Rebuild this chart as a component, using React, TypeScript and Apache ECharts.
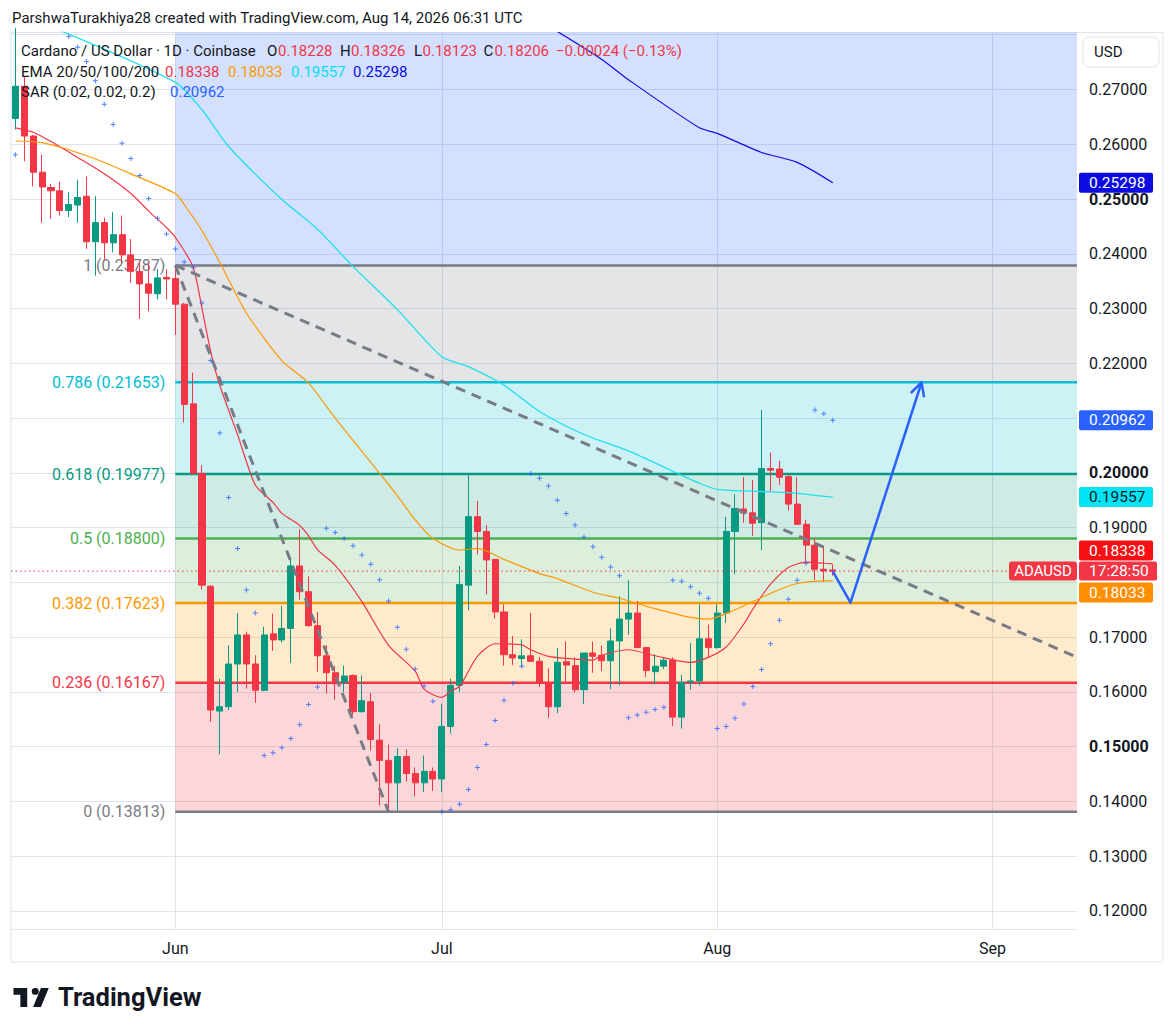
import React, { useEffect, useRef } from "react";
import * as echarts from "echarts";

const FONT = "Roboto, 'Noto Sans', Arial, sans-serif";
const INK = "#131722";
const UP = "#089981";
const DOWN = "#f23645";

const W = 1176;
const H = 1034;
const PLOT_LEFT = 11;
const PLOT_RIGHT = 1077;
const PLOT_TOP = 32.5;
const PLOT_BOTTOM = 929;
const Y_MIN = 0.11671;
const Y_MAX = 0.28041;

// categories: daily, 2026-05-14 .. 2026-09-10
const dates: string[] = Array.from({ length: 120 }, (_, i) =>
  new Date(Date.UTC(2026, 4, 14 + i)).toISOString().slice(0, 10)
);
const monthStarts = ["2026-06-01", "2026-07-01", "2026-08-01", "2026-09-01"];
const monthLabels = ["Jun", "Jul", "Aug", "Sep"];

// OHLC, 2026-05-14 .. 2026-08-14
const open = [
  0.2647, 0.2706, 0.2615, 0.2549, 0.2521, 0.2515, 0.2479, 0.2489, 0.2505, 0.2422, 0.2457, 0.2420, 0.2435, 0.2398, 0.2368, 0.2345, 0.2327, 0.2357,
  0.2355, 0.2308, 0.2126, 0.1999, 0.1793, 0.1565, 0.1573, 0.1651, 0.1704, 0.1651, 0.1603, 0.1706, 0.1695, 0.1716, 0.1830, 0.1783, 0.1721, 0.1666, 0.1635, 0.1617, 0.1630, 0.1564, 0.1582, 0.1512, 0.1475, 0.1434, 0.1482, 0.1451, 0.1434, 0.1455,
  0.1441, 0.1537, 0.1612, 0.1795, 0.1920, 0.1893, 0.1842, 0.1746, 0.1668, 0.1661, 0.1666, 0.1656, 0.1617, 0.1573, 0.1655, 0.1648, 0.1604, 0.1671, 0.1667, 0.1657, 0.1693, 0.1733, 0.1744, 0.1681, 0.1637, 0.1647, 0.1658, 0.1554, 0.1618, 0.1620, 0.1697,
  0.1681, 0.1744, 0.1893, 0.1934, 0.1927, 0.1909, 0.2008, 0.2007, 0.1993, 0.1943, 0.1906, 0.1868, 0.1824, 0.18228,
];
const high = [
  0.2812, 0.2724, 0.2617, 0.2581, 0.2528, 0.2532, 0.2512, 0.2535, 0.2541, 0.2505, 0.2466, 0.2476, 0.2470, 0.2427, 0.2384, 0.2384, 0.2372, 0.2372,
  0.23787, 0.2310, 0.2183, 0.2014, 0.1795, 0.1624, 0.1685, 0.1744, 0.1710, 0.1667, 0.1719, 0.1743, 0.1757, 0.1845, 0.1897, 0.1811, 0.1746, 0.1685, 0.1648, 0.1648, 0.1632, 0.1630, 0.1598, 0.1541, 0.1504, 0.1497, 0.1495, 0.1462, 0.1484, 0.1462,
  0.1579, 0.1624, 0.1830, 0.1999, 0.1949, 0.1905, 0.1843, 0.1760, 0.1702, 0.1696, 0.1744, 0.1664, 0.1643, 0.1680, 0.1692, 0.1663, 0.1671, 0.1692, 0.1685, 0.1716, 0.1775, 0.1804, 0.1766, 0.1682, 0.1669, 0.1664, 0.1663, 0.1631, 0.1689, 0.1760, 0.1723,
  0.1760, 0.1920, 0.1961, 0.1992, 0.1987, 0.2115, 0.2037, 0.2022, 0.1996, 0.1992, 0.1914, 0.1880, 0.1866, 0.18326,
];
const low = [
  0.2627, 0.2569, 0.2523, 0.2457, 0.2464, 0.2470, 0.2467, 0.2457, 0.2409, 0.2360, 0.2389, 0.2403, 0.2383, 0.2347, 0.2281, 0.2295, 0.2317, 0.2317,
  0.2252, 0.2092, 0.1997, 0.1787, 0.1545, 0.1486, 0.1567, 0.1600, 0.1606, 0.1580, 0.1601, 0.1675, 0.1690, 0.1653, 0.1768, 0.1719, 0.1637, 0.1597, 0.1586, 0.1600, 0.1558, 0.1562, 0.1493, 0.1393, 0.13813, 0.1383, 0.1436, 0.1409, 0.1417, 0.1419,
  0.1417, 0.1524, 0.1600, 0.1749, 0.1851, 0.1778, 0.1734, 0.1648, 0.1649, 0.1646, 0.1655, 0.1609, 0.1553, 0.1561, 0.1619, 0.1599, 0.1578, 0.1635, 0.1638, 0.1605, 0.1612, 0.1704, 0.1680, 0.1627, 0.1614, 0.1642, 0.1538, 0.1533, 0.1604, 0.1612, 0.1664,
  0.1679, 0.1726, 0.1815, 0.1909, 0.1885, 0.1859, 0.1966, 0.1978, 0.1931, 0.1905, 0.1835, 0.1804, 0.1801, 0.18123,
];
const close = [
  0.2706, 0.2615, 0.2549, 0.2522, 0.2515, 0.2479, 0.2490, 0.2503, 0.2422, 0.2457, 0.2420, 0.2435, 0.2398, 0.2368, 0.2345, 0.2328, 0.2356, 0.2354,
  0.2308, 0.2125, 0.1999, 0.1795, 0.1567, 0.1573, 0.1651, 0.1704, 0.1651, 0.1603, 0.1704, 0.1695, 0.1716, 0.1830, 0.1783, 0.1721, 0.1666, 0.1635, 0.1615, 0.1629, 0.1564, 0.1584, 0.1513, 0.1475, 0.1434, 0.1482, 0.1451, 0.1434, 0.1455, 0.1441,
  0.1537, 0.1612, 0.1796, 0.1920, 0.1893, 0.1841, 0.1746, 0.1668, 0.1662, 0.1666, 0.1656, 0.1617, 0.1573, 0.1654, 0.1649, 0.1604, 0.1671, 0.1665, 0.1657, 0.1693, 0.1733, 0.1744, 0.1681, 0.1639, 0.1647, 0.1658, 0.1554, 0.1617, 0.1620, 0.1697, 0.1681,
  0.1744, 0.1893, 0.1935, 0.1927, 0.1908, 0.2008, 0.2005, 0.1992, 0.1943, 0.1906, 0.1868, 0.1824, 0.1821, 0.18206,
];

// EMA readings [day index, value]
const ema20Points: [number, number][] = [
  [0, 0.2630], [2, 0.2622], [4, 0.2605], [7, 0.2576], [10, 0.2546], [13, 0.2510], [15, 0.2478], [17, 0.2448], [18, 0.2430],
  [20, 0.2376], [21, 0.2300], [22, 0.2220], [23, 0.2160], [25, 0.2070], [27, 0.1978], [29, 0.1946], [30, 0.1926], [32, 0.1904],
  [33, 0.1885], [34, 0.1860], [36, 0.1831], [39, 0.1765], [42, 0.1685], [45, 0.1638], [46, 0.1605], [48, 0.1590], [49, 0.1602],
  [50, 0.1610], [52, 0.1665], [54, 0.1688], [57, 0.1686], [58, 0.1677], [60, 0.1665], [63, 0.1660], [65, 0.1658], [66, 0.1667],
  [69, 0.1677], [72, 0.1666], [76, 0.1654], [78, 0.1663], [80, 0.1682], [82, 0.1724], [83, 0.1751], [84, 0.1775], [85, 0.1797],
  [87, 0.1827], [89, 0.1837], [91, 0.1835], [92, 0.18338],
];
const ema50Points: [number, number][] = [
  [0, 0.2606], [3, 0.2603], [6, 0.2590], [9, 0.2573], [13, 0.2546], [18, 0.2510], [19, 0.2490], [21, 0.2442], [23, 0.2384],
  [26, 0.2292], [30, 0.2205], [33, 0.2164], [36, 0.2100], [41, 0.1999], [43, 0.1958], [45, 0.1914], [47, 0.1880], [50, 0.1859],
  [52, 0.1862], [55, 0.1842], [59, 0.1816], [61, 0.1807], [65, 0.1782], [68, 0.1771], [72, 0.1752], [76, 0.1736], [78, 0.1733],
  [81, 0.1750], [83, 0.1765], [86, 0.1787], [88, 0.1798], [90, 0.1802], [92, 0.18033],
];
const ema100Points: [number, number][] = [
  [5, 0.2808], [18, 0.2713], [21, 0.2663], [24, 0.2596], [30, 0.2499], [34, 0.2445], [38, 0.2377], [43, 0.2298], [48, 0.2212],
  [51, 0.2194], [55, 0.2160], [59, 0.2112], [64, 0.2070], [69, 0.2040], [74, 0.2003], [77, 0.1981], [79, 0.1970], [84, 0.1966],
  [87, 0.1964], [92, 0.19557],
];
const ema200Points: [number, number][] = [
  [61, 0.2806], [66, 0.2755], [69, 0.2718], [77, 0.2630], [79, 0.2620], [84, 0.2585], [88, 0.2567], [92, 0.25298],
];

// Parabolic SAR per day (null = outside view)
const sar: (number | null)[] = [
  0.2581, null, null, null, null, null,
  0.2797, 0.2777, 0.2751, 0.2716, 0.2673, 0.2636, 0.2602, 0.2574, 0.2543, 0.2501, 0.2465, 0.2436, 0.2409,
  0.2385, 0.2375, 0.2310, 0.2205, 0.2073, 0.1955, 0.1862, 0.1786, 0.1744,
  0.1484, 0.1489, 0.1498, 0.1515, 0.1540, 0.1577, 0.1609,
  0.1899, 0.1891, 0.1880, 0.1867, 0.1850, 0.1833, 0.1805, 0.1766, 0.1718, 0.1678, 0.1642, 0.1611, 0.1583,
  0.1381, 0.1385, 0.1395, 0.1422, 0.1462, 0.1504, 0.1548, 0.1585, 0.1616, 0.1647,
  0.1999, 0.1990, 0.1976, 0.1950, 0.1926, 0.1905, 0.1883, 0.1865, 0.1846, 0.1828, 0.1812,
  0.1553, 0.1558, 0.1563, 0.1568, 0.1572,
  0.1804, 0.1802, 0.1792, 0.1780, 0.1771,
  0.1533, 0.1537, 0.1552, 0.1578, 0.1610, 0.1641, 0.1688, 0.1731, 0.1769, 0.1804, 0.1835,
  0.2115, 0.2108, 0.20962,
];

// Fibonacci retracement
const fibStartDay = "2026-06-01";
const fibLevels = ["1", "0.786", "0.618", "0.5", "0.382", "0.236", "0"];
const fibPrices = [0.23787, 0.21653, 0.19977, 0.188, 0.17623, 0.16167, 0.13813];
const fibColors = ["#787b86", "#00bcd4", "#089981", "#4caf50", "#ff9800", "#f23645", "#787b86"];
const fibFills = [
  "rgba(120,123,134,0.2)", "rgba(0,188,212,0.2)", "rgba(8,153,129,0.2)",
  "rgba(76,175,80,0.2)", "rgba(255,152,0,0.2)", "rgba(242,54,69,0.2)",
];
const fibTopFill = "rgba(41,98,255,0.2)";

// drawings
const swingLine: [string, number][] = [["2026-06-01", 0.23787], ["2026-06-25", 0.13813]];
const trendLine: [string, number][] = [["2026-06-01", 0.23787], ["2026-09-10", 0.1667]];
const arrowPath: [string, number][] = [["2026-08-14", 0.18206], ["2026-08-16", 0.1763], ["2026-08-24", 0.2165]];

const lastPrice = 0.18206;
const EMA20_C = "#f23645";
const EMA50_C = "#ff9800";
const EMA100_C = "#1fe0ee";
const EMA200_C = "#0c0ce0";
const SAR_C = "#2962ff";

// axis labels hidden behind the price tags
const coveredTicks = [0.21, 0.18];

const TV_LOGO = "M0 0H14V20H7V7H0Z M18.6 3.6A3.6 3.6 0 1 0 25.8 3.6A3.6 3.6 0 1 0 18.6 3.6Z M28 0H36L28 20H20Z";
echarts.graphic.registerShape("tvlogo", echarts.graphic.extendPath(TV_LOGO, {}));

function spread(points: [number, number][]) {
  const arr: (number | null)[] = new Array(dates.length).fill(null);
  points.forEach(([i, v]) => (arr[i] = v));
  return arr;
}

function emaSeries(name: string, points: [number, number][], color: string, width: number, extra: any = {}) {
  return {
    name,
    type: "line",
    data: spread(points),
    connectNulls: true,
    showSymbol: false,
    smooth: 0.25,
    silent: true,
    lineStyle: { color, width },
    z: 3,
    ...extra,
  };
}

function buildOption(): any {
  const candles = open.map((o, i) => [o, close[i], low[i], high[i]]);
  const areas: any[] = [
    [{ xAxis: fibStartDay, yAxis: fibPrices[0], itemStyle: { color: fibTopFill } }, { yAxis: Y_MAX }],
  ];
  for (let i = 0; i < fibFills.length; i++) {
    areas.push([
      { xAxis: fibStartDay, yAxis: fibPrices[i + 1], itemStyle: { color: fibFills[i] } },
      { yAxis: fibPrices[i] },
    ]);
  }
  return {
    animation: false,
    backgroundColor: "#ffffff",
    textStyle: { fontFamily: FONT },
    grid: {
      left: PLOT_LEFT,
      right: W - PLOT_RIGHT,
      top: PLOT_TOP,
      bottom: H - PLOT_BOTTOM,
      containLabel: false,
      outerBoundsMode: "none",
    },
    xAxis: {
      type: "category",
      data: dates,
      boundaryGap: true,
      axisLine: { show: false },
      axisTick: { show: false },
      splitLine: { show: false },
      axisLabel: {
        interval: (_i: number, v: string) => monthStarts.includes(v),
        formatter: (v: string) => {
          const k = monthStarts.indexOf(v);
          return k >= 0 ? monthLabels[k] : "";
        },
        margin: 11,
        color: INK,
        fontSize: 16,
        fontFamily: FONT,
      },
    },
    yAxis: {
      type: "value",
      position: "right",
      min: Y_MIN,
      max: Y_MAX,
      scale: true,
      splitNumber: 16,
      minInterval: 0.01,
      maxInterval: 0.01,
      axisLine: { show: false },
      axisTick: { show: false },
      splitLine: { show: true, lineStyle: { color: "#e0e3eb", width: 1 } },
      axisLabel: {
        margin: 12,
        showMinLabel: false,
        showMaxLabel: false,
        formatter: (v: number) => {
          const c = v * 100;
          if (Math.abs(c - Math.round(c)) > 1e-6) return "";
          if (v > 0.275) return "";
          if (coveredTicks.some((t) => Math.abs(t - v) < 1e-6)) return "";
          const s = v.toFixed(5);
          return Math.round(c) % 5 === 0 ? `{b|${s}}` : `{n|${s}}`;
        },
        rich: {
          n: { fontSize: 16, color: INK, fontFamily: FONT },
          b: { fontSize: 16, color: INK, fontFamily: FONT, fontWeight: "bold" },
        },
      },
    },
    series: [
      {
        name: "ADAUSD",
        type: "candlestick",
        data: candles,
        barWidth: "74%",
        silent: true,
        z: 2,
        itemStyle: { color: UP, color0: DOWN, borderColor: UP, borderColor0: DOWN, borderWidth: 1 },
        markArea: { silent: true, z: 1, data: areas },
      },
      emaSeries("EMA 20", ema20Points, EMA20_C, 1.2),
      emaSeries("EMA 50", ema50Points, EMA50_C, 1.2),
      emaSeries("EMA 100", ema100Points, EMA100_C, 1.3),
      emaSeries("EMA 200", ema200Points, EMA200_C, 1.2, {
        markLine: {
          silent: true,
          z: 0.5,
          symbol: ["none", "none"],
          label: { show: false },
          lineStyle: { color: "#e0e3eb", type: "solid", width: 1 },
          data: monthStarts.map((m) => ({ xAxis: m })),
        },
      }),
      {
        name: "SAR",
        type: "scatter",
        data: [...sar, ...new Array(dates.length - sar.length).fill(null)],
        symbol: "path://M2,0H3V2H5V3H3V5H2V3H0V2H2Z",
        symbolSize: 5,
        silent: true,
        z: 4,
        itemStyle: { color: SAR_C },
      },
    ],
  };
}

function text(x: number, y: number, t: string, o: any = {}) {
  const align = o.align ?? "left";
  return {
    type: "text",
    x,
    y,
    silent: true,
    z: o.z ?? 20,
    scaleX: o.scaleX ?? 1,
    style: {
      text: t,
      fill: o.fill ?? INK,
      font: `${o.weight ?? "normal"} ${o.size ?? 16}px ${FONT}`,
      textAlign: align,
      align,
      textVerticalAlign: "middle",
      verticalAlign: "middle",
    },
  };
}

function buildGraphics(chart: any) {
  const pt = (day: string, v: number) =>
    chart.convertToPixel({ gridIndex: 0 }, [dates.indexOf(day), v]) as number[];
  const py = (v: number) => chart.convertToPixel({ yAxisIndex: 0 }, v) as number;
  const els: any[] = [];

  // chart frame
  els.push({
    type: "rect", silent: true, z: 0,
    shape: { x: PLOT_LEFT, y: PLOT_TOP, width: 1163 - PLOT_LEFT, height: 962 - PLOT_TOP },
    style: { fill: "none", stroke: "#e0e3eb", lineWidth: 1 },
  });

  // fib levels
  const fibX0 = pt(fibStartDay, fibPrices[0])[0];
  fibPrices.forEach((p, i) => {
    const y = py(p);
    els.push({
      type: "line", silent: true, z: 1.5,
      shape: { x1: fibX0, y1: y, x2: PLOT_RIGHT, y2: y },
      style: { stroke: fibColors[i], lineWidth: 2.5 },
    });
    els.push(text(fibX0 - 10, y, `${fibLevels[i]} (${p.toFixed(5)})`, { fill: fibColors[i], align: "right", z: 1.5 }));
  });

  // last price dotted line
  const cdY = py(lastPrice);
  els.push({
    type: "line", silent: true, z: 5,
    shape: { x1: PLOT_LEFT, y1: cdY, x2: PLOT_RIGHT, y2: cdY },
    style: { stroke: DOWN, lineWidth: 1, lineDash: [1.5, 3] },
  });

  // dashed drawings
  const dashStyle = { stroke: "#787b86", lineWidth: 3, lineDash: [10, 7] };
  const s0 = pt(swingLine[0][0], swingLine[0][1]);
  const s1 = pt(swingLine[1][0], swingLine[1][1]);
  els.push({ type: "line", silent: true, z: 5, shape: { x1: s0[0], y1: s0[1], x2: s1[0], y2: s1[1] }, style: dashStyle });
  const t0 = pt(trendLine[0][0], trendLine[0][1]);
  const t1 = pt(trendLine[1][0], trendLine[1][1]);
  const k = (PLOT_RIGHT - t0[0]) / (t1[0] - t0[0]);
  els.push({
    type: "line", silent: true, z: 5,
    shape: { x1: t0[0], y1: t0[1], x2: PLOT_RIGHT, y2: t0[1] + k * (t1[1] - t0[1]) },
    style: dashStyle,
  });

  // projected path arrow
  const ap = arrowPath.map(([d, v]) => pt(d, v));
  els.push({
    type: "polyline", silent: true, z: 6,
    shape: { points: ap },
    style: { stroke: "#2962ff", lineWidth: 2.5, fill: null, lineJoin: "round" },
  });
  const [bx, by] = ap[1];
  const [tx, ty] = ap[2];
  const ang = Math.atan2(ty - by, tx - bx);
  const L = 15;
  const sp = Math.PI / 6.5;
  els.push({
    type: "polyline", silent: true, z: 6,
    shape: {
      points: [
        [tx - L * Math.cos(ang - sp), ty - L * Math.sin(ang - sp)],
        [tx, ty],
        [tx - L * Math.cos(ang + sp), ty - L * Math.sin(ang + sp)],
      ],
    },
    style: { stroke: "#2962ff", lineWidth: 2.5, fill: null, lineJoin: "round" },
  });

  // price tags on the axis
  const tags = [
    { v: ema200Points[ema200Points.length - 1][1], bg: EMA200_C, fg: "#ffffff" },
    { v: sar[sar.length - 1] as number, bg: "#2962ff", fg: "#ffffff" },
    { v: ema100Points[ema100Points.length - 1][1], bg: "#00e5f5", fg: INK },
    { v: ema20Points[ema20Points.length - 1][1], bg: "#f70f14", fg: "#ffffff" },
    { v: ema50Points[ema50Points.length - 1][1], bg: "#ff8f00", fg: "#ffffff" },
  ];
  tags.forEach((t) => {
    let cy = py(t.v);
    if (Math.abs(cy - cdY) < 20.5) cy = cy < cdY ? cdY - 20.5 : cdY + 21.5;
    els.push({
      type: "rect", silent: true, z: 20,
      shape: { x: 1079, y: cy - 10, width: 74, height: 20, r: 2 },
      style: { fill: t.bg },
    });
    els.push(text(1089, cy, t.v.toFixed(5), { fill: t.fg, z: 21, size: 15.5 }));
  });
  // last price / countdown
  els.push({
    type: "rect", silent: true, z: 20,
    shape: { x: 1079, y: cdY - 9.5, width: 78, height: 19, r: 2 },
    style: { fill: "#f23645" },
  });
  els.push(text(1089, cdY, "17:28:50", { fill: "#ffffff", z: 21, size: 15.5 }));
  els.push({
    type: "rect", silent: true, z: 20,
    shape: { x: 1009, y: cdY - 9.5, width: 68, height: 19, r: 3 },
    style: { fill: "#f23645" },
  });
  els.push(text(1043, cdY, "ADAUSD", { fill: "#ffffff", align: "center", size: 15, z: 21 }));

  // currency box
  els.push({
    type: "rect", silent: true, z: 20,
    shape: { x: 1083, y: 37, width: 76, height: 30, r: 6 },
    style: { fill: "#ffffff", stroke: "#e0e3eb", lineWidth: 1 },
  });
  els.push(text(1094, 52, "USD", { size: 15 }));

  // header + legend
  els.push(text(12, 18, "ParshwaTurakhiya28 created with TradingView.com, Aug 14, 2026 06:31 UTC", { size: 15 }));
  const y1 = 51, y2 = 71.5, y3 = 92;
  const L15 = { size: 15 };
  const R15 = { size: 15, fill: DOWN };
  els.push(text(21, y1, "Cardano / US Dollar · 1D · Coinbase", L15));
  els.push(text(267, y1, "O", L15));
  els.push(text(278, y1, open[open.length - 1].toFixed(5), R15));
  els.push(text(340, y1, "H", L15));
  els.push(text(351, y1, high[high.length - 1].toFixed(5), R15));
  els.push(text(414, y1, "L", L15));
  els.push(text(422.5, y1, low[low.length - 1].toFixed(5), R15));
  els.push(text(483.5, y1, "C", L15));
  els.push(text(494.5, y1, close[close.length - 1].toFixed(5), R15));
  els.push(text(556, y1, "−0.00024 (−0.13%)", R15));
  els.push(text(21, y2, "EMA 20/50/100/200", L15));
  els.push(text(165, y2, ema20Points[ema20Points.length - 1][1].toFixed(5), { size: 15, fill: EMA20_C }));
  els.push(text(228, y2, ema50Points[ema50Points.length - 1][1].toFixed(5), { size: 15, fill: EMA50_C }));
  els.push(text(291, y2, ema100Points[ema100Points.length - 1][1].toFixed(5), { size: 15, fill: "#00e0f0" }));
  els.push(text(353, y2, ema200Points[ema200Points.length - 1][1].toFixed(5), { size: 15, fill: EMA200_C }));
  els.push(text(21, y3, "SAR (0.02, 0.02, 0.2)", L15));
  els.push(text(170, y3, (sar[sar.length - 1] as number).toFixed(5), { size: 15, fill: SAR_C }));

  // TradingView wordmark
  els.push({
    type: "tvlogo", silent: true, z: 20,
    x: 13.5, y: 988, scaleX: 0.98, scaleY: 0.95,
    style: { fill: "#131722" },
  });
  els.push(text(58, 998, "TradingView", { size: 25, weight: "bold", scaleX: 1.02 }));

  return { elements: els };
}

export default function App() {
  const ref = useRef<HTMLDivElement>(null);
  useEffect(() => {
    if (!ref.current) return;
    const chart = echarts.init(ref.current, null, { renderer: "svg" });
    chart.setOption(buildOption());
    chart.setOption({ graphic: buildGraphics(chart) });
    return () => chart.dispose();
  }, []);
  return (
    <div
      ref={ref}
      style={{ position: "absolute", left: 0, top: 0, width: W, height: H, background: "#ffffff" }}
    />
  );
}
